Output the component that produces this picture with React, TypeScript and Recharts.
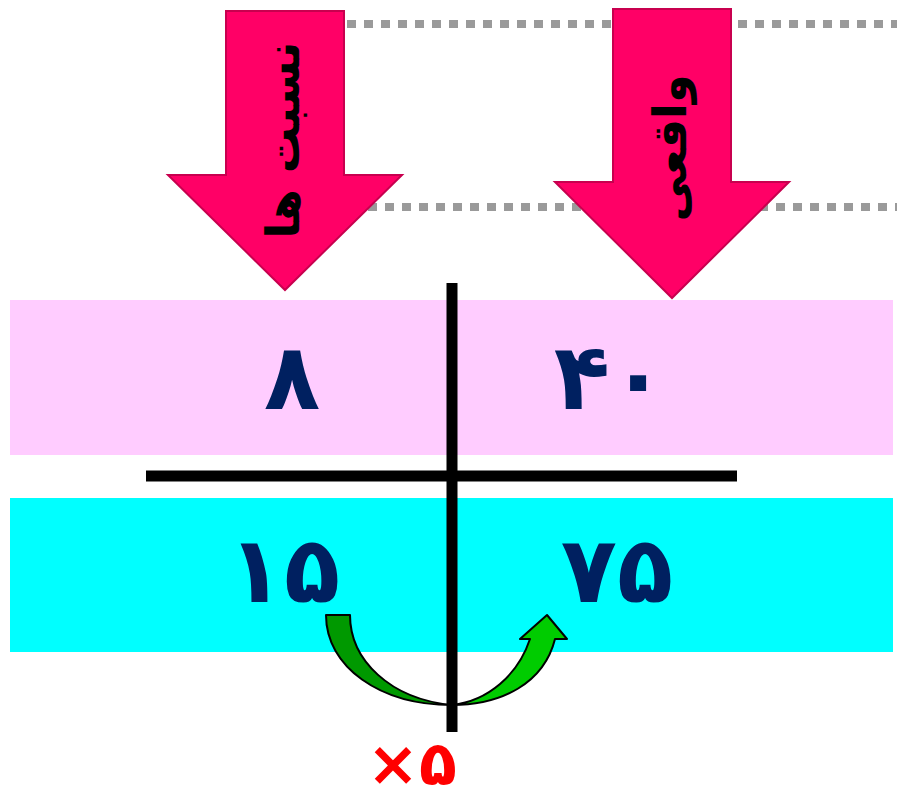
import { ScatterChart, XAxis, YAxis, Scatter, ReferenceArea, ReferenceLine } from "recharts";

// column headers (read down the pink arrows)
const HEADERS = ["نسبت ها", "واقعی"];
// left column: the ratio, right column: the real amounts
const RATIO_VALUES = [8, 15];
const REAL_VALUES = [40, 75];
const FACTOR = 5;

// canvas layout, in the chart's own pixel units
const WIDTH = 897;
const HEIGHT = 800;
const ARROW_TIPS = [
  { x: 285, y: 290, top: 11, neck: 175 },
  { x: 672, y: 298, top: 9, neck: 182 },
];
const ROW_Y = [377, 570];
const RATIO_X = [292, 284];
const REAL_X = [610, 617];
const BANDS = [
  { y1: 300, y2: 455, fill: "#ffccff" },
  { y1: 498, y2: 652, fill: "#00ffff" },
];
const DOTTED_ROWS = [
  { y: 24, from: 330 },
  { y: 207, from: 300 },
];

const NAVY = "#002060";
const PINK = "#ff0066";
const FONT = "'DejaVu Sans', sans-serif";

const toFa = (n: number) => String(n).replace(/\d/g, (d) => "۰۱۲۳۴۵۶۷۸۹"[+d]);

const headerData = HEADERS.map((label, i) => ({ ...ARROW_TIPS[i], label }));
const valueData = ROW_Y.flatMap((y, i) => [
  { x: RATIO_X[i], y, value: RATIO_VALUES[i] },
  { x: REAL_X[i], y, value: REAL_VALUES[i] },
]);
const factorData = [{ x: 452, y: 705, factor: FACTOR }];

const DownArrow = (props: any) => {
  const { cx, cy, payload } = props;
  const shaft = 59;
  const head = 117;
  // top and neck are stored in the same units as y, which here map 1:1
  const len = payload.y - payload.top;
  const headH = payload.y - payload.neck;
  const pts = [
    [cx - shaft, cy - len],
    [cx + shaft, cy - len],
    [cx + shaft, cy - headH],
    [cx + head, cy - headH],
    [cx, cy],
    [cx - head, cy - headH],
    [cx - shaft, cy - headH],
  ]
    .map((p) => p.join(","))
    .join(" ");
  const tx = cx - 2;
  const ty = cy - 150;
  return (
    <g>
      <polygon points={pts} fill={PINK} stroke="#c8004f" strokeWidth={2} />
      <text
        x={tx}
        y={ty}
        transform={`rotate(-90, ${tx}, ${ty})`}
        textAnchor="middle"
        dominantBaseline="central"
        fontFamily={FONT}
        fontWeight="bold"
        fontSize={46}
        fill="#000"
      >
        {payload.label}
      </text>
    </g>
  );
};

const NumberMark = (props: any) => {
  const { cx, cy, payload } = props;
  return (
    <text
      x={cx}
      y={cy}
      textAnchor="middle"
      dominantBaseline="central"
      fontFamily={FONT}
      fontWeight="bold"
      fontSize={92}
      fill={NAVY}
    >
      {toFa(payload.value)}
    </text>
  );
};

const TimesArrow = (props: any) => {
  const { cx, cy, payload } = props;
  const left = `M ${cx} ${cy} C ${cx - 72} ${cy} ${cx - 126} ${cy - 38} ${cx - 126} ${cy - 90}
    L ${cx - 102} ${cy - 90} C ${cx - 102} ${cy - 45} ${cx - 62} ${cy - 6} ${cx} ${cy} Z`;
  const right = `M ${cx} ${cy} C ${cx + 50} ${cy} ${cx + 92} ${cy - 22} ${cx + 103} ${cy - 66}
    L ${cx + 115} ${cy - 66} L ${cx + 95} ${cy - 90} L ${cx + 68} ${cy - 66} L ${cx + 78} ${cy - 66}
    C ${cx + 66} ${cy - 30} ${cx + 36} ${cy - 4} ${cx} ${cy} Z`;
  return (
    <g>
      <path d={left} fill="#009900" stroke="#000" strokeWidth={2} strokeLinejoin="round" />
      <path d={right} fill="#00cc00" stroke="#000" strokeWidth={2} strokeLinejoin="round" />
      <text
        x={cx - 40}
        y={cy + 58}
        textAnchor="middle"
        dominantBaseline="central"
        fontFamily={FONT}
        fontWeight="bold"
        fontSize={62}
        fill="#ff0000"
      >
        {"×" + toFa(payload.factor)}
      </text>
    </g>
  );
};

export default function App() {
  return (
    <div style={{ position: "absolute", left: 0, top: 0, background: "#fff" }}>
      <ScatterChart width={WIDTH} height={HEIGHT} margin={{ top: 0, right: 0, bottom: 0, left: 0 }}>
        <XAxis type="number" dataKey="x" domain={[0, WIDTH]} allowDataOverflow hide />
        <YAxis type="number" dataKey="y" domain={[0, HEIGHT]} allowDataOverflow reversed hide />
        {DOTTED_ROWS.map((r) => (
          <ReferenceLine
            key={r.y}
            segment={[
              { x: r.from, y: r.y },
              { x: WIDTH, y: r.y },
            ]}
            stroke="#9a9a9a"
            strokeWidth={8}
            strokeDasharray="9 8"
          />
        ))}
        {BANDS.map((b) => (
          <ReferenceArea
            key={b.y1}
            x1={10}
            x2={893}
            y1={b.y1}
            y2={b.y2}
            fill={b.fill}
            fillOpacity={1}
            stroke="none"
          />
        ))}
        <Scatter data={headerData} shape={DownArrow} isAnimationActive={false} />
        <Scatter data={valueData} shape={NumberMark} isAnimationActive={false} />
        <Scatter data={factorData} shape={TimesArrow} isAnimationActive={false} />
        <ReferenceLine
          segment={[
            { x: 452, y: 283 },
            { x: 452, y: 732 },
          ]}
          stroke="#000"
          strokeWidth={11}
        />
        <ReferenceLine
          segment={[
            { x: 146, y: 476 },
            { x: 737, y: 476 },
          ]}
          stroke="#000"
          strokeWidth={11}
        />
      </ScatterChart>
    </div>
  );
}
